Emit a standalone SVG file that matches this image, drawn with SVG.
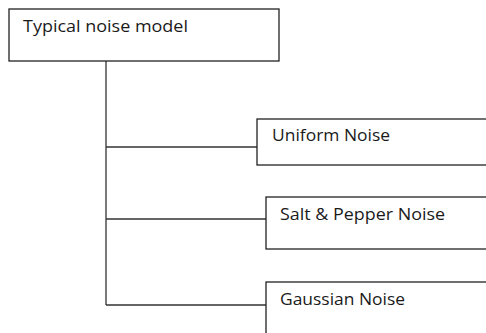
<svg xmlns="http://www.w3.org/2000/svg" width="486" height="333" viewBox="0 0 486 333">
<style>
.box{fill:#fff;stroke:#222;stroke-width:1.3}
.lbl{font-family:"Open Sans","Liberation Sans",sans-serif;font-size:15.5px;fill:#1a1a1a}
.con{fill:none;stroke:#333;stroke-width:1.3}
</style>
<rect width="486" height="333" fill="#fff"/>
<g id="connectors">
<path class="con" d="M106 61 V305 M106 147 H257 M106 219 H266 M106 305 H266"/>
</g>
<g id="typical">
<rect class="box" x="9" y="9" width="270" height="52"/>
<text class="lbl" x="23" y="32" textLength="165" lengthAdjust="spacingAndGlyphs">Typical noise model</text>
</g>
<g id="uniform">
<rect class="box" x="257" y="119" width="240" height="46"/>
<text class="lbl" x="272" y="141" textLength="118" lengthAdjust="spacingAndGlyphs">Uniform Noise</text>
</g>
<g id="saltpepper">
<rect class="box" x="266" y="197" width="240" height="52"/>
<text class="lbl" x="280" y="220" textLength="165" lengthAdjust="spacingAndGlyphs">Salt &amp; Pepper Noise</text>
</g>
<g id="gaussian">
<rect class="box" x="266" y="282" width="240" height="60"/>
<text class="lbl" x="280" y="305" textLength="125" lengthAdjust="spacingAndGlyphs">Gaussian Noise</text>
</g>
</svg>
